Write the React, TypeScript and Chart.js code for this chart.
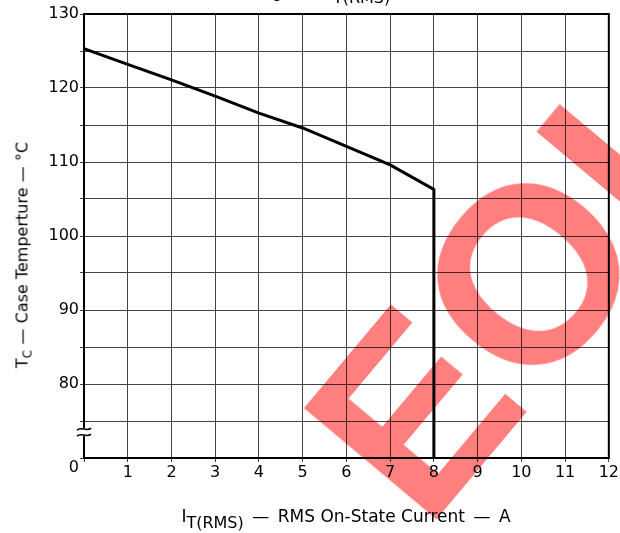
import React, { useEffect, useRef } from "react";
import { Chart, registerables } from "chart.js";

Chart.register(...registerables);

// ---- data ----
const currentA = [0, 1, 2, 3, 4, 5, 6, 7, 8, 8];
const caseTempC = [125.3, 123.2, 121.1, 118.9, 116.6, 114.6, 112.1, 109.6, 106.3, 70];
const yTickLabels: Record<number, string> = {
  130: "130",
  120: "120",
  110: "110",
  100: "100",
  90: "90",
  80: "80",
};
const yZeroLabel = "0";
const xTickLabels = ["", "1", "2", "3", "4", "5", "6", "7", "8", "9", "10", "11", "12"];
const yAxisMin = 70;
const yAxisMax = 130;
const yBreakValue = 73.5;

const FONT = "'DejaVu Sans', 'Liberation Sans', sans-serif";

const framePlugin = {
  id: "frame",
  afterDraw(chart: any) {
    const { ctx, chartArea, scales } = chart;
    const { left, right, top, bottom } = chartArea;
    ctx.save();
    ctx.strokeStyle = "#000";
    ctx.lineWidth = 2;
    ctx.strokeRect(left, top, right - left, bottom - top);
    // axis break symbol
    const by = scales.y.getPixelForValue(yBreakValue);
    ctx.fillStyle = "#fff";
    ctx.fillRect(left - 3, by - 4, 6, 8);
    ctx.lineWidth = 1.5;
    for (const dy of [-3, 3]) {
      ctx.beginPath();
      ctx.moveTo(left - 7, by + dy + 1);
      ctx.bezierCurveTo(left - 3, by + dy - 3, left + 3, by + dy + 3, left + 7, by + dy - 1);
      ctx.stroke();
    }
    ctx.restore();
  },
};

export default function App() {
  const canvasRef = useRef<HTMLCanvasElement | null>(null);

  useEffect(() => {
    if (!canvasRef.current) return;
    const chart = new Chart(canvasRef.current, {
      type: "line",
      data: {
        datasets: [
          {
            data: currentA.map((x, i) => ({ x, y: caseTempC[i] })),
            borderColor: "#000",
            borderWidth: 3,
            pointRadius: 0,
            tension: 0,
            fill: false,
          },
        ],
      },
      options: {
        animation: false,
        responsive: false,
        devicePixelRatio: 1,
        layout: { padding: { top: 14, right: 11, left: 0, bottom: 0 } },
        plugins: {
          legend: { display: false },
          tooltip: { enabled: false },
          title: { display: false },
        },
        scales: {
          x: {
            type: "linear",
            min: 0,
            max: 12,
            afterFit(scale: any) {
              scale.height = 75;
            },
            ticks: {
              stepSize: 1,
              autoSkip: false,
              maxRotation: 0,
              padding: 1,
              color: "#000",
              font: { family: FONT, size: 16 },
              callback: (v: any) => xTickLabels[Math.round(Number(v))] ?? "",
            },
            grid: { color: "#444", lineWidth: 1, tickLength: 4 },
            border: { color: "#000", width: 2 },
          },
          y: {
            type: "linear",
            min: yAxisMin,
            max: yAxisMax,
            afterFit(scale: any) {
              scale.width = 84;
            },
            ticks: {
              stepSize: 5,
              autoSkip: false,
              padding: 1,
              color: "#000",
              font: { family: FONT, size: 16 },
              callback: (v: any) => {
                const n = Number(v);
                if (n === yAxisMin) return ["", yZeroLabel];
                return yTickLabels[n] ?? "";
              },
            },
            grid: { color: "#444", lineWidth: 1, tickLength: 4 },
            border: { color: "#000", width: 2 },
          },
        },
      },
      plugins: [framePlugin],
    } as any);
    return () => chart.destroy();
  }, []);

  const subStyle: React.CSSProperties = { fontSize: 16, position: "relative", top: 6, verticalAlign: "baseline" };
  const smallSub: React.CSSProperties = { fontSize: 12, position: "relative", top: 4, verticalAlign: "baseline" };
  const dashX = "\u2002—\u2002";
  const dashY = "\u2004—\u2004";

  return (
    <div
      style={{
        position: "fixed",
        left: 0,
        top: 0,
        width: 620,
        height: 533,
        overflow: "hidden",
        background: "#fff",
        fontFamily: FONT,
        color: "#000",
      }}
    >
      <canvas ref={canvasRef} width={620} height={533} style={{ position: "absolute", left: 0, top: 0 }} />
      {/* clipped chart title at the very top */}
      <div
        style={{
          position: "absolute",
          left: 262,
          top: -17,
          fontSize: 16,
          whiteSpace: "nowrap",
          lineHeight: "18px",
        }}
      >
        T<span style={smallSub}>C</span>
        {"\u2003—\u2003"}I<span style={subStyle}>T(RMS)</span>
      </div>
      {/* x-axis title */}
      <div
        style={{
          position: "absolute",
          left: 346,
          top: 507,
          transform: "translateX(-50%)",
          fontSize: 17,
          whiteSpace: "nowrap",
          lineHeight: "18px",
        }}
      >
        I<span style={subStyle}>T(RMS)</span>
        {dashX}RMS On-State Current{dashX}A
      </div>
      {/* y-axis title */}
      <div
        style={{
          position: "absolute",
          left: 23,
          top: 255,
          transform: "translate(-50%, -50%) rotate(-90deg)",
          fontSize: 16,
          whiteSpace: "nowrap",
          lineHeight: "18px",
        }}
      >
        T<span style={smallSub}>C</span>
        {dashY}Case Temperture{dashY}°C
      </div>
      {/* watermark */}
      <div
        style={{
          position: "absolute",
          left: 525,
          top: 280,
          transform: "translate(-50%, -50%) rotate(-50deg)",
          fontSize: 250,
          fontWeight: 700,
          fontFamily: "'Liberation Sans', sans-serif",
          color: "rgba(255, 0, 0, 0.5)",
          mixBlendMode: "multiply",
          whiteSpace: "nowrap",
          lineHeight: "250px",
          pointerEvents: "none",
        }}
      >
        EOL
      </div>
    </div>
  );
}
